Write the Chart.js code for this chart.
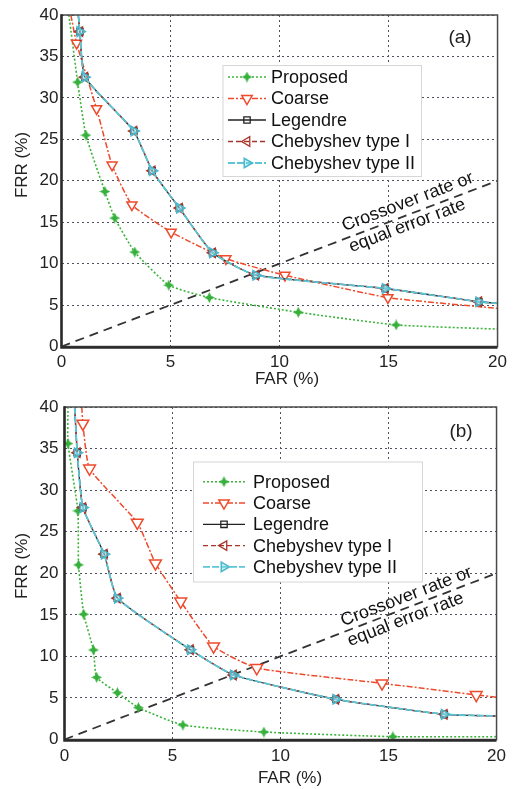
<!DOCTYPE html>
<html><head><meta charset="utf-8">
<script src="https://cdn.jsdelivr.net/npm/chart.js@4/dist/chart.umd.min.js"></script>
<style>
html,body{margin:0;padding:0;background:#fff;width:513px;height:789px;overflow:hidden}
canvas{display:block}
</style></head><body>
<canvas id="ca" width="513" height="390"></canvas>
<canvas id="cb" width="513" height="399"></canvas>
<script>
// ---------- data ----------
const seriesNames = ['Proposed','Coarse','Legendre','Chebyshev type I','Chebyshev type II'];
const xTicks = [0,5,10,15,20];
const yTicks = [0,5,10,15,20,25,30,35,40];
const panelLabels = ['(a)','(b)'];
const crossoverText = ['Crossover rate or','equal error rate'];
const xTitle = 'FAR (%)';
const yTitle = 'FRR (%)';
const eerFar = [0, 20];
const eerFrr = [0, 20];

// panel (a)
const farA_proposed = [0.34, 0.74, 1.12, 1.99, 2.44, 3.36, 4.92, 6.78, 10.86, 15.35, 20];
const frrA_proposed = [40, 31.9, 25.5, 18.7, 15.5, 11.4, 7.4, 5.9, 4.13, 2.6, 2.1];
const farA_coarse   = [0.43, 0.69, 1.61, 2.32, 3.23, 5.03, 7.54, 10.25, 14.97, 20];
const frrA_coarse   = [40, 36.6, 28.7, 21.9, 17.1, 13.8, 10.6, 8.6, 5.9, 4.6];
const farA_legendre = [0.77, 0.84, 1.07, 3.32, 4.16, 5.41, 6.93, 8.91, 14.85, 19.14, 20];
const frrA_legendre = [40, 38.0, 32.5, 26.0, 21.2, 16.7, 11.3, 8.6, 7.0, 5.4, 5.2];
const farA_cheb1    = [0.77, 0.84, 1.07, 3.32, 4.16, 5.41, 6.93, 8.91, 14.85, 19.14, 20];
const frrA_cheb1    = [40, 38.0, 32.5, 26.0, 21.2, 16.7, 11.3, 8.6, 7.0, 5.4, 5.2];
const farA_cheb2    = [0.77, 0.84, 1.07, 3.32, 4.16, 5.41, 6.93, 8.91, 14.85, 19.14, 20];
const frrA_cheb2    = [40, 38.0, 32.5, 26.0, 21.2, 16.7, 11.3, 8.6, 7.0, 5.4, 5.2];

// panel (b)
const farB_proposed = [0.16, 0.16, 0.62, 0.65, 0.89, 1.34, 1.49, 2.45, 3.42, 5.48, 9.23, 15.2, 20];
const frrB_proposed = [40, 35.6, 27.5, 21.0, 15.07, 10.77, 7.48, 5.63, 3.83, 1.74, 0.9, 0.34, 0.34];
const farB_coarse   = [0.8, 0.85, 1.16, 3.37, 4.21, 5.38, 6.9, 8.9, 14.7, 19.06, 20];
const frrB_coarse   = [40, 38.0, 32.6, 26.1, 21.2, 16.6, 11.2, 8.6, 6.76, 5.36, 5.08];
const farB_legendre = [0.47, 0.59, 0.85, 1.84, 2.45, 5.83, 7.82, 12.56, 17.58, 20];
const frrB_legendre = [40, 34.5, 27.9, 22.3, 17.0, 10.8, 7.76, 4.84, 3.03, 2.83];
const farB_cheb1    = [0.47, 0.59, 0.85, 1.84, 2.45, 5.83, 7.82, 12.56, 17.58, 20];
const frrB_cheb1    = [40, 34.5, 27.9, 22.3, 17.0, 10.8, 7.76, 4.84, 3.03, 2.83];
const farB_cheb2    = [0.47, 0.59, 0.85, 1.84, 2.45, 5.83, 7.82, 12.56, 17.58, 20];
const frrB_cheb2    = [40, 34.5, 27.9, 22.3, 17.0, 10.8, 7.76, 4.84, 3.03, 2.83];

// ---------- styling ----------
const FONT = '"Liberation Sans", Arial, Helvetica, sans-serif';
Chart.defaults.font.family = FONT;
Chart.defaults.color = '#222';

function starCanvas(color, size){
  const c = document.createElement('canvas'); c.width = c.height = size;
  const g = c.getContext('2d'); const m = size/2, R = size/2, r = size*0.24;
  g.beginPath();
  for (let i=0;i<8;i++){ const a = i*Math.PI/4 - Math.PI/2; const rr = i%2===0 ? R : r; g.lineTo(m+rr*Math.cos(a), m+rr*Math.sin(a)); }
  g.closePath(); g.fillStyle = color; g.fill();
  return c;
}
const greenStar = starCanvas('#35b03a', 11);

const zip = (xs, ys) => xs.map((x,i)=>({x, y: ys[i]}));
const hideEnds = r => ctx => {
  const n = ctx.dataset.data.length;
  return (ctx.dataIndex===0 || ctx.dataIndex===n-1) ? 0 : r;
};

function makeDatasets(p, coarseR){
  const common = {tension:0.15, fill:false, pointHoverRadius:0};
  return [
    Object.assign({label: seriesNames[4], data: zip(p.c2x,p.c2y), borderColor:'#5cc6d6', borderWidth:1.8, borderDash:[7,2],
      pointStyle:'triangle', pointRotation:90, pointRadius: hideEnds(5.5), pointBorderColor:'#4ab8cc', pointBackgroundColor:'rgba(130,215,228,0.45)', pointBorderWidth:1.5, order:0, legendIdx:4, legendRadius:5.5}, common),
    Object.assign({label: seriesNames[3], data: zip(p.c1x,p.c1y), borderColor:'#a8352a', borderWidth:1.3, borderDash:[5,3],
      pointStyle:'triangle', pointRotation:270, pointRadius: hideEnds(5.5), pointBorderColor:'#a8352a', pointBackgroundColor:'rgba(0,0,0,0)', pointBorderWidth:1.3, order:1, legendIdx:3, legendRadius:5.5}, common),
    Object.assign({label: seriesNames[2], data: zip(p.lx,p.ly), borderColor:'#222', borderWidth:1.3, borderDash:[],
      pointStyle:'rect', pointRotation:0, pointRadius: hideEnds(4.5), pointBorderColor:'#222', pointBackgroundColor:'rgba(0,0,0,0)', pointBorderWidth:1.3, order:2, legendIdx:2, legendRadius:4.5}, common),
    Object.assign({label: seriesNames[1], data: zip(p.cx,p.cy), borderColor:'#ee4a2c', borderWidth:1.5, borderDash:[6,2,2,2],
      pointStyle:'triangle', pointRotation:180, pointRadius: hideEnds(coarseR), pointBorderColor:'#ee4a2c', pointBackgroundColor:'#fff', pointBorderWidth:1.5, order:3, legendIdx:1, legendRadius:6}, common),
    Object.assign({label: seriesNames[0], data: zip(p.px,p.py), borderColor:'#3cb43c', borderWidth:1.6, borderDash:[2,2],
      pointStyle:greenStar, pointRotation:0, pointRadius: hideEnds(4), pointBorderColor:'#35b03a', pointBackgroundColor:'#35b03a', pointBorderWidth:1, order:4, legendIdx:0, legendRadius:4}, common),
    {label:'EER', data: zip(eerFar, eerFrr), borderColor:'#333', borderWidth:1.8, borderDash:[9,6], pointRadius:0, pointHoverRadius:0, tension:0, order:5, legendIdx:-1}
  ];
}

function decorPlugin(cfg){
  return {id:'decor'+cfg.label, afterDraw(chart){
    const ctx = chart.ctx, a = chart.chartArea, xs = chart.scales.x, ys = chart.scales.y;
    ctx.save();
    ctx.setLineDash([]);
    ctx.strokeStyle = '#4a4a4a'; ctx.lineWidth = 1.5;
    ctx.strokeRect(a.left, a.top, a.right-a.left, a.bottom-a.top);
    ctx.strokeStyle = '#2a2a2a'; ctx.lineWidth = 2.5;
    ctx.beginPath(); ctx.moveTo(a.left, a.top-0.7); ctx.lineTo(a.left, a.bottom+1); ctx.lineTo(a.right, a.bottom+1); ctx.stroke();
    ctx.fillStyle = '#222'; ctx.font = '17px ' + FONT; ctx.textAlign='center'; ctx.textBaseline='middle';
    ctx.fillText(xTitle, cfg.xTitlePos[0], cfg.xTitlePos[1]);
    ctx.save(); ctx.translate(cfg.yTitlePos[0], cfg.yTitlePos[1]); ctx.rotate(-Math.PI/2); ctx.fillText(yTitle, 0, 0); ctx.restore();
    ctx.font = '19px ' + FONT;
    ctx.fillText(cfg.label, cfg.labelPos[0], cfg.labelPos[1]);
    const ang = Math.atan2(ys.getPixelForValue(0)-ys.getPixelForValue(20), xs.getPixelForValue(20)-xs.getPixelForValue(0));
    ctx.save();
    ctx.translate(xs.getPixelForValue(cfg.eerAnchor), ys.getPixelForValue(cfg.eerAnchor));
    ctx.rotate(-ang);
    ctx.font = '18px ' + FONT; ctx.textAlign='left'; ctx.textBaseline='middle'; ctx.fillStyle='#111';
    ctx.fillText(crossoverText[0], 0, cfg.eerOff[0]);
    ctx.fillText(crossoverText[1], -1, cfg.eerOff[1]);
    ctx.restore();
    const b = cfg.box;
    ctx.fillStyle='#fff'; ctx.fillRect(b.x, b.y, b.w, b.h);
    ctx.strokeStyle='#d6d6d6'; ctx.lineWidth=1; ctx.strokeRect(b.x+0.5, b.y+0.5, b.w, b.h);
    const ds = chart.data.datasets.filter(d=>d.legendIdx>=0).sort((p,q)=>p.legendIdx-q.legendIdx);
    ds.forEach((d,i)=>{
      const y = b.row0 + i*b.rowH;
      ctx.strokeStyle = d.borderColor; ctx.lineWidth = d.borderWidth; ctx.setLineDash(d.borderDash);
      ctx.beginPath(); ctx.moveTo(b.l0, y); ctx.lineTo(b.l1, y); ctx.stroke();
      ctx.setLineDash([]);
      ctx.fillStyle = d.pointBackgroundColor; ctx.strokeStyle = d.pointBorderColor; ctx.lineWidth = d.pointBorderWidth;
      Chart.helpers.drawPoint(ctx, {pointStyle:d.pointStyle, rotation:d.pointRotation, radius:d.legendRadius, borderWidth:d.pointBorderWidth}, (b.l0+b.l1)/2, y);
      ctx.fillStyle = '#111'; ctx.font = '18px ' + FONT; ctx.textAlign='left'; ctx.textBaseline='middle';
      ctx.fillText(d.label, b.tx, y+1);
    });
    ctx.restore();
  }};
}

function makeChart(id, p, cfg){
  return new Chart(document.getElementById(id), {
    type:'line',
    data:{datasets: makeDatasets(p, cfg.coarseR)},
    options:{
      responsive:false, animation:false, devicePixelRatio:1,
      layout:{padding:{top:cfg.padTop, right:cfg.padRight, left:0, bottom:0}},
      plugins:{legend:{display:false}, tooltip:{enabled:false}},
      elements:{line:{capBezierPoints:true}},
      scales:{
        x:{type:'linear', min:0, max:20,
          afterBuildTicks: s => { s.ticks = xTicks.map(v=>({value:v})); },
          afterFit: s => { s.height = cfg.xH; },
          grid:{color:'#50505e', lineWidth:1, drawTicks:false},
          border:{display:false, dash:[2,3]},
          ticks:{padding:cfg.xPad, font:{size:17}, color:'#222', maxRotation:0}},
        y:{type:'linear', min:0, max:40,
          afterBuildTicks: s => { s.ticks = yTicks.map(v=>({value:v})); },
          afterFit: s => { s.width = cfg.yW; },
          grid:{color:'#50505e', lineWidth:1, drawTicks:false},
          border:{display:false, dash:[2,3]},
          ticks:{padding:cfg.yPad, font:{size:17}, color:'#222'}}
      }
    },
    plugins:[decorPlugin(cfg)]
  });
}

makeChart('ca', {
  px:farA_proposed, py:frrA_proposed, cx:farA_coarse, cy:frrA_coarse,
  lx:farA_legendre, ly:frrA_legendre, c1x:farA_cheb1, c1y:frrA_cheb1, c2x:farA_cheb2, c2y:frrA_cheb2
}, {
  label: panelLabels[0], padTop:15, padRight:13, xH:43.5, yW:61.5, xPad:6, yPad:3, coarseR:5.8,
  xTitlePos:[287,379], yTitlePos:[22,165], labelPos:[460,38],
  eerAnchor:13.1, eerOff:[-12,10],
  box:{x:222.5, y:65, w:198.5, h:111, row0:77, rowH:21.5, l0:228, l1:266, tx:271}
});

makeChart('cb', {
  px:farB_proposed, py:frrB_proposed, cx:farB_coarse, cy:frrB_coarse,
  lx:farB_legendre, ly:frrB_legendre, c1x:farB_cheb1, c1y:frrB_cheb1, c2x:farB_cheb2, c2y:frrB_cheb2
}, {
  label: panelLabels[1], padTop:17, padRight:12.5, xH:49.5, yW:64.5, xPad:7, yPad:6, coarseR:6.8,
  xTitlePos:[290,388], yTitlePos:[22,176], labelPos:[461,42],
  eerAnchor:13.0, eerOff:[-10.5,10.5],
  box:{x:193, y:71.5, w:229, h:120, row0:91.7, rowH:21.3, l0:203, l1:245, tx:253}
});
</script>
</body></html>
